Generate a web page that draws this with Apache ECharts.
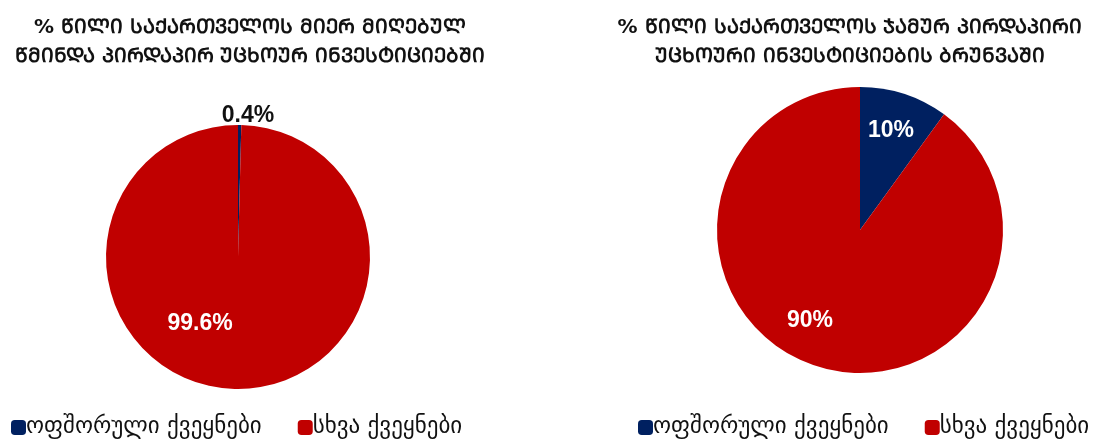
<!DOCTYPE html>
<html>
<head>
<meta charset="utf-8">
<script src="https://cdn.jsdelivr.net/npm/echarts@6/dist/echarts.min.js"></script>
<style>
  html, body { margin: 0; padding: 0; background: #fff; }
  #chart { width: 1095px; height: 439px; }
</style>
</head>
<body>
<div id="chart"></div>
<script>
// data
const categories = ['ოფშორული ქვეყნები', 'სხვა ქვეყნები']
const netFdiShare = [0.4, 99.6]
const totalTurnoverShare = [10, 90]
const titles = [
  '% ᲬᲘᲚᲘ ᲡᲐᲥᲐᲠᲗᲕᲔᲚᲝᲡ ᲛᲘᲔᲠ ᲛᲘᲦᲔᲑᲣᲚ\nᲬᲛᲘᲜᲓᲐ ᲞᲘᲠᲓᲐᲞᲘᲠ ᲣᲪᲮᲝᲣᲠ ᲘᲜᲕᲔᲡᲢᲘᲪᲘᲔᲑᲨᲘ',
  '% ᲬᲘᲚᲘ ᲡᲐᲥᲐᲠᲗᲕᲔᲚᲝᲡ ᲯᲐᲛᲣᲠ ᲞᲘᲠᲓᲐᲞᲘᲠᲘ\nᲣᲪᲮᲝᲣᲠᲘ ᲘᲜᲕᲔᲡᲢᲘᲪᲘᲔᲑᲘᲡ ᲑᲠᲣᲜᲕᲐᲨᲘ',
]

const colors = ['#002060', '#C00000']
const font = '"DejaVu Sans", "Noto Sans", sans-serif'

const chart = echarts.init(document.getElementById('chart'), null, { renderer: 'canvas' })

const labelBase = {
  show: true,
  position: 'inside',
  color: '#fff',
  fontSize: 23,
  fontWeight: 'bold',
  fontFamily: 'Arial, "Liberation Sans", sans-serif',
  formatter: (p) => p.value + '%',
}

const titleStyle = { fontSize: 20, fontWeight: 'bold', color: '#111', fontFamily: font, lineHeight: 29 }
const legendBase = {
  top: 411, itemWidth: 15, itemHeight: 15, itemGap: 36, icon: 'roundRect',
  textStyle: { fontSize: 23, color: '#111', fontFamily: font, padding: [0, 0, 0, -5] },
  data: categories,
}

chart.setOption({
  animation: false,
  color: colors,
  title: [
    { text: titles[0], left: 245, top: 8, textAlign: 'center', textStyle: titleStyle },
    { text: titles[1], left: 845, top: 8, textAlign: 'center', textStyle: titleStyle },
  ],
  legend: [
    { ...legendBase, left: 6 },
    { ...legendBase, left: 633 },
  ],
  series: [
    {
      type: 'pie',
      center: [238, 257],
      radius: 132,
      startAngle: 90,
      clockwise: true,
      avoidLabelOverlap: false,
      labelLine: { show: false },
      label: labelBase,
      data: [
        { name: categories[0], value: netFdiShare[0], label: { position: 'outside', color: '#111', offset: [-23, -5] }, labelLine: { show: false, length: 4, length2: 0 } },
        { name: categories[1], value: netFdiShare[1], label: { offset: [-37, -2] } },
      ],
      emphasis: { disabled: true },
    },
    {
      type: 'pie',
      center: [860, 230],
      radius: 143,
      startAngle: 90,
      clockwise: true,
      avoidLabelOverlap: false,
      labelLine: { show: false },
      label: labelBase,
      data: [
        { name: categories[0], value: totalTurnoverShare[0], label: { offset: [8, -28] } },
        { name: categories[1], value: totalTurnoverShare[1], label: { offset: [-27, 20] } },
      ],
      emphasis: { disabled: true },
    },
  ],
})
</script>
</body>
</html>
